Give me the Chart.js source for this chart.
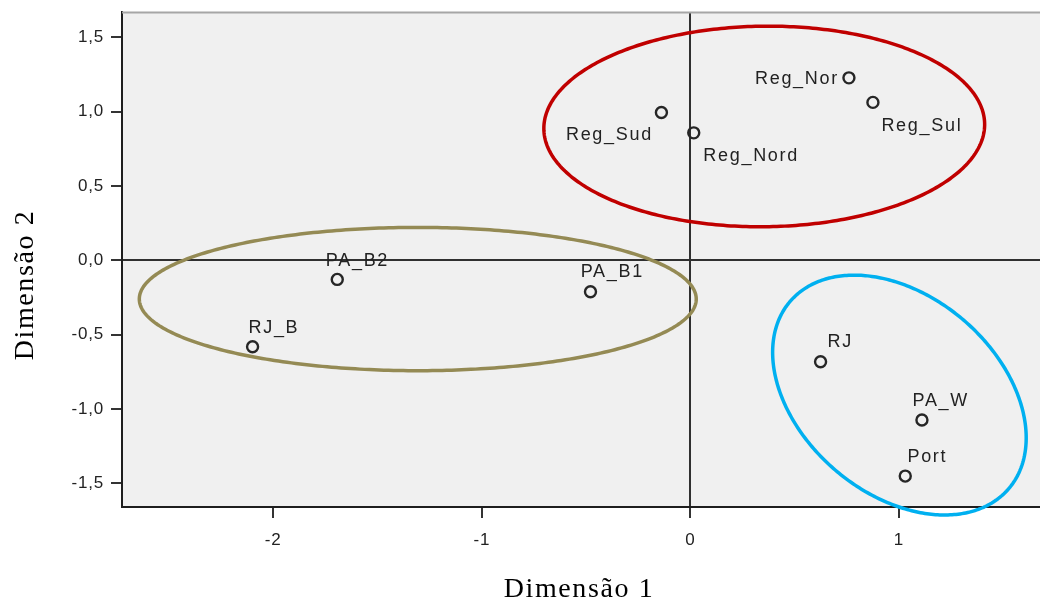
<!DOCTYPE html>
<html><head><meta charset="utf-8">
<script src="https://cdn.jsdelivr.net/npm/chart.js@4"></script>
<style>html,body{margin:0;padding:0;overflow:hidden;background:#fff;width:1040px;height:599px}canvas{display:block}</style>
</head><body>
<canvas id="c" width="1060" height="599"></canvas>
<script>
// ---- data ----
const categories = ['Reg_Nor','Reg_Sul','Reg_Sud','Reg_Nord','PA_B2','RJ_B','PA_B1','RJ','PA_W','Port'];
const dim1 = [0.760, 0.875, -0.139, 0.016, -1.693, -2.099, -0.479, 0.624, 1.110, 1.030];
const dim2 = [1.228, 1.063, 0.995, 0.858, -0.128, -0.581, -0.211, -0.682, -1.074, -1.451];
const xTicks = [-2, -1, 0, 1];
const xTickLabels = ['-2', '-1', '0', '1'];
const yTicks = [1.5, 1.0, 0.5, 0.0, -0.5, -1.0, -1.5];
const yTickLabels = ['1,5', '1,0', '0,5', '0,0', '-0,5', '-1,0', '-1,5'];
const xTitle = 'Dimensão 1';
const yTitle = 'Dimensão 2';
// group ellipses in data units: centre and two semi-axis vectors
const ellipseCx = [0.354, -1.307, 1.002];
const ellipseCy = [0.901, -0.260, -0.906];
const ellipseU = [[1.0566, 0.0168], [1.335, 0], [0.524, -0.630]];
const ellipseV = [[0.0055, -0.6745], [0, 0.482], [-0.308, -0.504]];

// ---- styles ----
const ellipseColors = ['#C00000', '#948A54', '#00B0F0'];
// label placement relative to point (px): dx, baseline dy, align
const labelPlacement = [
  [-10, 6.3, 'right'], [8.5, 28.4, 'left'], [-8.5, 27.7, 'right'], [9.6, 28.3, 'left'],
  [-11.4, -13.3, 'left'], [-4.1, -14, 'left'], [-9.8, -14.4, 'left'], [6.9, -14.4, 'left'],
  [-9.4, -14.3, 'left'], [2.2, -13.7, 'left']
];

const decor = {
  id: 'decor',
  beforeDraw(chart) {
    const {ctx, chartArea: a} = chart;
    ctx.save();
    ctx.fillStyle = '#f0f0f0';
    ctx.fillRect(a.left, a.top, a.right - a.left, a.bottom - a.top);
    ctx.restore();
    ctx.letterSpacing = '0.8px';
  },
  afterDatasetsDraw(chart) {
    const {ctx} = chart;
    const xs = chart.scales.x, ys = chart.scales.y;
    ctx.save();
    ctx.letterSpacing = '1.7px';
    ctx.font = '18px "Liberation Sans", Arial, sans-serif';
    ctx.fillStyle = '#222';
    ctx.textBaseline = 'alphabetic';
    categories.forEach((name, i) => {
      const px = xs.getPixelForValue(dim1[i]);
      const py = ys.getPixelForValue(dim2[i]);
      const [dx, dy, al] = labelPlacement[i];
      ctx.textAlign = al;
      ctx.fillText(name, px + dx, py + dy);
    });
    ctx.restore();
  },
  afterDraw(chart) {
    const {ctx, chartArea: a} = chart;
    const xs = chart.scales.x, ys = chart.scales.y;
    ctx.save();
    // top border
    ctx.strokeStyle = '#a6a6a6';
    ctx.lineWidth = 2;
    ctx.beginPath();
    ctx.moveTo(a.left, a.top + 0.5);
    ctx.lineTo(a.right + 20, a.top + 0.5);
    ctx.stroke();
    // ellipses
    ctx.lineWidth = 3.5;
    for (let k = 0; k < ellipseCx.length; k++) {
      ctx.strokeStyle = ellipseColors[k];
      ctx.beginPath();
      for (let s = 0; s <= 360; s++) {
        const t = s * Math.PI / 180;
        const vx = ellipseCx[k] + ellipseU[k][0] * Math.cos(t) + ellipseV[k][0] * Math.sin(t);
        const vy = ellipseCy[k] + ellipseU[k][1] * Math.cos(t) + ellipseV[k][1] * Math.sin(t);
        const px = xs.getPixelForValue(vx), py = ys.getPixelForValue(vy);
        if (s === 0) ctx.moveTo(px, py); else ctx.lineTo(px, py);
      }
      ctx.closePath();
      ctx.stroke();
    }
    // axis titles
    ctx.fillStyle = '#000';
    ctx.letterSpacing = '1.6px';
    ctx.font = '28px "Liberation Serif", "Times New Roman", serif';
    ctx.textAlign = 'center';
    ctx.textBaseline = 'alphabetic';
    ctx.fillText(xTitle, 579, 596.5);
    ctx.translate(33, 285);
    ctx.rotate(-Math.PI / 2);
    ctx.fillText(yTitle, 0, 0);
    ctx.restore();
    ctx.letterSpacing = '0px';
  }
};

const zeroColor = c => (c.tick && c.tick.value === 0) ? '#303030' : 'rgba(0,0,0,0)';

new Chart(document.getElementById('c'), {
  type: 'scatter',
  data: {
    datasets: [{
      data: dim1.map((x, i) => ({x, y: dim2[i]})),
      pointStyle: 'circle',
      pointRadius: 5.5,
      pointHoverRadius: 5.5,
      borderWidth: 2.4,
      borderColor: '#262626',
      backgroundColor: 'rgba(0,0,0,0)'
    }]
  },
  options: {
    responsive: false,
    animation: false,
    devicePixelRatio: 1,
    layout: {padding: {top: 12, left: 0, right: 0, bottom: 0}},
    plugins: {legend: {display: false}, tooltip: {enabled: false}},
    scales: {
      x: {
        type: 'linear',
        min: -2.725, max: 1.734,
        afterBuildTicks: s => { s.ticks = xTicks.map(v => ({value: v})); },
        afterFit: s => { s.height = 92; s.paddingLeft = 0; s.paddingRight = 0; },
        ticks: {
          callback: v => xTickLabels[xTicks.indexOf(v)],
          color: '#222',
          font: {family: '"Liberation Sans", Arial, sans-serif', size: 17},
          padding: 12,
          maxRotation: 0, autoSkip: false
        },
        grid: {
          drawOnChartArea: true,
          color: zeroColor,
          lineWidth: 2,
          drawTicks: true,
          tickLength: 11,
          tickColor: '#333',
          tickWidth: 2
        },
        border: {display: true, color: '#1e1e1e', width: 2}
      },
      y: {
        type: 'linear',
        min: -1.659, max: 1.671,
        afterBuildTicks: s => { s.ticks = yTicks.map(v => ({value: v})); },
        afterFit: s => { s.width = 122; s.paddingTop = 0; s.paddingBottom = 0; },
        ticks: {
          callback: v => yTickLabels[yTicks.indexOf(v)],
          color: '#222',
          font: {family: '"Liberation Sans", Arial, sans-serif', size: 17},
          padding: 7,
          autoSkip: false
        },
        grid: {
          drawOnChartArea: true,
          color: zeroColor,
          lineWidth: 2,
          drawTicks: true,
          tickLength: 11,
          tickColor: '#333',
          tickWidth: 2
        },
        border: {display: true, color: '#1e1e1e', width: 2}
      }
    }
  },
  plugins: [decor]
});
</script>
</body></html>
